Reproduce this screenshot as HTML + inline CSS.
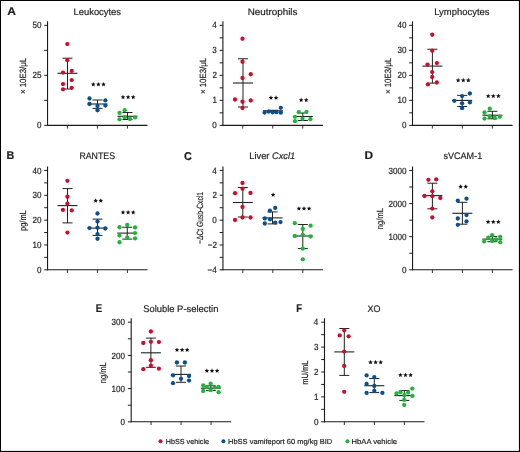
<!DOCTYPE html>
<html><head><meta charset="utf-8"><style>
html,body{margin:0;padding:0;background:#fff;}
svg{display:block;will-change:transform;}
text{text-rendering:geometricPrecision;font-family:"Liberation Sans",sans-serif;fill:#1e1e1e;stroke:#1e1e1e;stroke-width:0.18px;}
</style></head><body>
<svg width="520" height="452" viewBox="0 0 520 452">
<rect x="0" y="0" width="520" height="452" fill="#fff"/>
<text x="73.53" y="15.10" font-size="9.5" font-weight="normal" textLength="47.51" lengthAdjust="spacingAndGlyphs">Leukocytes</text><text x="247.69" y="15.20" font-size="9.5" font-weight="normal" textLength="49.76" lengthAdjust="spacingAndGlyphs">Neutrophils</text><text x="434.23" y="15.10" font-size="9.5" font-weight="normal" textLength="55.31" lengthAdjust="spacingAndGlyphs">Lymphocytes</text><text x="79.38" y="159.30" font-size="9.5" font-weight="normal" textLength="35.73" lengthAdjust="spacingAndGlyphs">RANTES</text><text x="249.34" y="159.40" font-size="9.5" font-weight="normal" textLength="45.84" lengthAdjust="spacingAndGlyphs">Liver <tspan font-style="italic">Cxcl1</tspan></text><text x="443.45" y="159.30" font-size="9.5" font-weight="normal" textLength="38.80" lengthAdjust="spacingAndGlyphs">sVCAM-1</text><text x="143.17" y="311.90" font-size="9.5" font-weight="normal" textLength="75.24" lengthAdjust="spacingAndGlyphs">Soluble P-selectin</text><text x="367.60" y="311.80" font-size="9.5" font-weight="normal" textLength="12.93" lengthAdjust="spacingAndGlyphs">XO</text><text x="7.20" y="14.60" font-size="11.3" font-weight="bold" textLength="8.72" lengthAdjust="spacingAndGlyphs"><tspan font-weight="bold">A</tspan></text><text x="6.48" y="159.40" font-size="11.3" font-weight="bold" textLength="7.82" lengthAdjust="spacingAndGlyphs"><tspan font-weight="bold">B</tspan></text><text x="184.05" y="159.50" font-size="11.3" font-weight="bold" textLength="7.84" lengthAdjust="spacingAndGlyphs"><tspan font-weight="bold">C</tspan></text><text x="364.50" y="159.40" font-size="11.3" font-weight="bold" textLength="8.60" lengthAdjust="spacingAndGlyphs"><tspan font-weight="bold">D</tspan></text><text x="95.66" y="311.50" font-size="11.3" font-weight="bold" textLength="6.42" lengthAdjust="spacingAndGlyphs"><tspan font-weight="bold">E</tspan></text><text x="296.37" y="311.80" font-size="11.3" font-weight="bold" textLength="5.78" lengthAdjust="spacingAndGlyphs"><tspan font-weight="bold">F</tspan></text><line x1="47.55" y1="21.35" x2="47.55" y2="125.85" stroke="#1a1a1a" stroke-width="1.1"/><line x1="44.25" y1="125.35" x2="47.55" y2="125.35" stroke="#1a1a1a" stroke-width="1"/><line x1="44.25" y1="100.35" x2="47.55" y2="100.35" stroke="#1a1a1a" stroke-width="1"/><line x1="44.25" y1="75.35" x2="47.55" y2="75.35" stroke="#1a1a1a" stroke-width="1"/><line x1="44.25" y1="50.349999999999994" x2="47.55" y2="50.349999999999994" stroke="#1a1a1a" stroke-width="1"/><line x1="44.25" y1="25.349999999999994" x2="47.55" y2="25.349999999999994" stroke="#1a1a1a" stroke-width="1"/><text x="36.96" y="128.45" font-size="9.0" font-weight="normal" textLength="4.50" lengthAdjust="spacingAndGlyphs">0</text><text x="32.48" y="78.45" font-size="9.0" font-weight="normal" textLength="9.01" lengthAdjust="spacingAndGlyphs">25</text><text x="32.46" y="28.45" font-size="9.0" font-weight="normal" textLength="9.01" lengthAdjust="spacingAndGlyphs">50</text><line x1="47.05" y1="125.35" x2="147.55" y2="125.35" stroke="#1a1a1a" stroke-width="1.1"/><line x1="67.4" y1="125.35" x2="67.4" y2="128.54999999999998" stroke="#1a1a1a" stroke-width="0.9"/><line x1="97.4" y1="125.35" x2="97.4" y2="128.54999999999998" stroke="#1a1a1a" stroke-width="0.9"/><line x1="127.39999999999999" y1="125.35" x2="127.39999999999999" y2="128.54999999999998" stroke="#1a1a1a" stroke-width="0.9"/><text transform="translate(26.40,93.50) rotate(-90)" x="-0.54" y="0" font-size="9.0" textLength="36.21" lengthAdjust="spacingAndGlyphs">× 10E3/μL</text><line x1="67.5" y1="58.2" x2="67.5" y2="89" stroke="#222" stroke-width="1"/><line x1="62.5" y1="58.2" x2="72.5" y2="58.2" stroke="#222" stroke-width="1"/><line x1="62.5" y1="89" x2="72.5" y2="89" stroke="#222" stroke-width="1"/><line x1="57.5" y1="73.3" x2="77.5" y2="73.3" stroke="#222" stroke-width="1.1"/><circle cx="67.3" cy="44.1" r="2.15" fill="#c8102e"/><circle cx="67.3" cy="60.2" r="2.15" fill="#c8102e"/><circle cx="63" cy="72.6" r="2.15" fill="#c8102e"/><circle cx="71.7" cy="70.9" r="2.15" fill="#c8102e"/><circle cx="71.7" cy="80.1" r="2.15" fill="#c8102e"/><circle cx="63" cy="84.1" r="2.15" fill="#c8102e"/><circle cx="71.7" cy="87.8" r="2.15" fill="#c8102e"/><circle cx="63" cy="89.3" r="2.15" fill="#c8102e"/><line x1="97.5" y1="100" x2="97.5" y2="108.4" stroke="#222" stroke-width="1"/><line x1="92.5" y1="100" x2="102.5" y2="100" stroke="#222" stroke-width="1"/><line x1="92.5" y1="108.4" x2="102.5" y2="108.4" stroke="#222" stroke-width="1"/><line x1="87.5" y1="104" x2="107.5" y2="104" stroke="#222" stroke-width="1.1"/><circle cx="89.5" cy="98.5" r="2.15" fill="#0b4f8f"/><circle cx="105.4" cy="100.4" r="2.15" fill="#0b4f8f"/><circle cx="89.5" cy="104" r="2.15" fill="#0b4f8f"/><circle cx="97.5" cy="106" r="2.15" fill="#0b4f8f"/><circle cx="105.4" cy="105.6" r="2.15" fill="#0b4f8f"/><circle cx="97.5" cy="110.25" r="2.15" fill="#0b4f8f"/><line x1="127.5" y1="112.5" x2="127.5" y2="119.5" stroke="#222" stroke-width="1"/><line x1="122.5" y1="112.5" x2="132.5" y2="112.5" stroke="#222" stroke-width="1"/><line x1="122.5" y1="119.5" x2="132.5" y2="119.5" stroke="#222" stroke-width="1"/><line x1="117.5" y1="116.3" x2="137.5" y2="116.3" stroke="#222" stroke-width="1.1"/><circle cx="124.7" cy="110.2" r="2.15" fill="#22b43a"/><circle cx="119.5" cy="112.9" r="2.15" fill="#22b43a"/><circle cx="135.1" cy="117.4" r="2.15" fill="#22b43a"/><circle cx="124.8" cy="117.2" r="2.15" fill="#22b43a"/><circle cx="119.5" cy="119.3" r="2.15" fill="#22b43a"/><circle cx="129.9" cy="119" r="2.15" fill="#22b43a"/><g fill="#111"><polygon points="93.30,81.95 93.95,83.51 95.63,83.64 94.35,84.74 94.74,86.38 93.30,85.50 91.86,86.38 92.25,84.74 90.97,83.64 92.65,83.51"/><polygon points="98.40,81.95 99.05,83.51 100.73,83.64 99.45,84.74 99.84,86.38 98.40,85.50 96.96,86.38 97.35,84.74 96.07,83.64 97.75,83.51"/><polygon points="103.50,81.95 104.15,83.51 105.83,83.64 104.55,84.74 104.94,86.38 103.50,85.50 102.06,86.38 102.45,84.74 101.17,83.64 102.85,83.51"/><polygon points="123.00,94.75 123.65,96.31 125.33,96.44 124.05,97.54 124.44,99.18 123.00,98.30 121.56,99.18 121.95,97.54 120.67,96.44 122.35,96.31"/><polygon points="128.10,94.75 128.75,96.31 130.43,96.44 129.15,97.54 129.54,99.18 128.10,98.30 126.66,99.18 127.05,97.54 125.77,96.44 127.45,96.31"/><polygon points="133.20,94.75 133.85,96.31 135.53,96.44 134.25,97.54 134.64,99.18 133.20,98.30 131.76,99.18 132.15,97.54 130.87,96.44 132.55,96.31"/></g><line x1="222.9" y1="21.35" x2="222.9" y2="125.85" stroke="#1a1a1a" stroke-width="1.1"/><line x1="219.6" y1="125.35" x2="222.9" y2="125.35" stroke="#1a1a1a" stroke-width="1"/><line x1="219.6" y1="112.85" x2="222.9" y2="112.85" stroke="#1a1a1a" stroke-width="1"/><line x1="219.6" y1="100.35" x2="222.9" y2="100.35" stroke="#1a1a1a" stroke-width="1"/><line x1="219.6" y1="87.85" x2="222.9" y2="87.85" stroke="#1a1a1a" stroke-width="1"/><line x1="219.6" y1="75.35" x2="222.9" y2="75.35" stroke="#1a1a1a" stroke-width="1"/><line x1="219.6" y1="62.849999999999994" x2="222.9" y2="62.849999999999994" stroke="#1a1a1a" stroke-width="1"/><line x1="219.6" y1="50.349999999999994" x2="222.9" y2="50.349999999999994" stroke="#1a1a1a" stroke-width="1"/><line x1="219.6" y1="37.849999999999994" x2="222.9" y2="37.849999999999994" stroke="#1a1a1a" stroke-width="1"/><line x1="219.6" y1="25.349999999999994" x2="222.9" y2="25.349999999999994" stroke="#1a1a1a" stroke-width="1"/><text x="212.31" y="128.45" font-size="9.0" font-weight="normal" textLength="4.50" lengthAdjust="spacingAndGlyphs">0</text><text x="212.39" y="103.45" font-size="9.0" font-weight="normal" textLength="4.50" lengthAdjust="spacingAndGlyphs">1</text><text x="212.40" y="78.45" font-size="9.0" font-weight="normal" textLength="4.50" lengthAdjust="spacingAndGlyphs">2</text><text x="212.35" y="53.45" font-size="9.0" font-weight="normal" textLength="4.50" lengthAdjust="spacingAndGlyphs">3</text><text x="212.23" y="28.45" font-size="9.0" font-weight="normal" textLength="4.50" lengthAdjust="spacingAndGlyphs">4</text><line x1="222.4" y1="125.35" x2="322.9" y2="125.35" stroke="#1a1a1a" stroke-width="1.1"/><line x1="242.75" y1="125.35" x2="242.75" y2="128.54999999999998" stroke="#1a1a1a" stroke-width="0.9"/><line x1="272.75" y1="125.35" x2="272.75" y2="128.54999999999998" stroke="#1a1a1a" stroke-width="0.9"/><line x1="302.75" y1="125.35" x2="302.75" y2="128.54999999999998" stroke="#1a1a1a" stroke-width="0.9"/><text transform="translate(206.30,93.50) rotate(-90)" x="-0.54" y="0" font-size="9.0" textLength="36.21" lengthAdjust="spacingAndGlyphs">× 10E3/μL</text><line x1="243.0" y1="58.75" x2="243.0" y2="107" stroke="#222" stroke-width="1"/><line x1="238.0" y1="58.75" x2="248.0" y2="58.75" stroke="#222" stroke-width="1"/><line x1="238.0" y1="107" x2="248.0" y2="107" stroke="#222" stroke-width="1"/><line x1="233.0" y1="83" x2="253.0" y2="83" stroke="#222" stroke-width="1.1"/><circle cx="242.5" cy="38.75" r="2.15" fill="#c8102e"/><circle cx="242.5" cy="61.75" r="2.15" fill="#c8102e"/><circle cx="250.75" cy="74.25" r="2.15" fill="#c8102e"/><circle cx="242.5" cy="78" r="2.15" fill="#c8102e"/><circle cx="235" cy="99.5" r="2.15" fill="#c8102e"/><circle cx="242.5" cy="101.75" r="2.15" fill="#c8102e"/><circle cx="250.75" cy="100.5" r="2.15" fill="#c8102e"/><circle cx="242.5" cy="108" r="2.15" fill="#c8102e"/><line x1="273.0" y1="110.3" x2="273.0" y2="111.3" stroke="#222" stroke-width="1"/><line x1="268.0" y1="110.3" x2="278.0" y2="110.3" stroke="#222" stroke-width="1"/><line x1="268.0" y1="111.3" x2="278.0" y2="111.3" stroke="#222" stroke-width="1"/><line x1="263.0" y1="110.8" x2="283.0" y2="110.8" stroke="#222" stroke-width="1.1"/><circle cx="264.6" cy="112.5" r="2.15" fill="#0b4f8f"/><circle cx="268.7" cy="111.6" r="2.15" fill="#0b4f8f"/><circle cx="272.7" cy="112.3" r="2.15" fill="#0b4f8f"/><circle cx="276.5" cy="112.2" r="2.15" fill="#0b4f8f"/><circle cx="280.8" cy="112.7" r="2.15" fill="#0b4f8f"/><circle cx="280.8" cy="107.8" r="2.15" fill="#0b4f8f"/><line x1="302.8" y1="113" x2="302.8" y2="120.5" stroke="#222" stroke-width="1"/><line x1="297.8" y1="113" x2="307.8" y2="113" stroke="#222" stroke-width="1"/><line x1="297.8" y1="120.5" x2="307.8" y2="120.5" stroke="#222" stroke-width="1"/><line x1="292.8" y1="116.5" x2="312.8" y2="116.5" stroke="#222" stroke-width="1.1"/><circle cx="298.8" cy="112.2" r="2.15" fill="#22b43a"/><circle cx="306.5" cy="111.8" r="2.15" fill="#22b43a"/><circle cx="295" cy="116.8" r="2.15" fill="#22b43a"/><circle cx="302.5" cy="118.75" r="2.15" fill="#22b43a"/><circle cx="310.4" cy="119.2" r="2.15" fill="#22b43a"/><circle cx="295" cy="121.2" r="2.15" fill="#22b43a"/><g fill="#111"><polygon points="270.95,95.35 271.60,96.91 273.28,97.04 272.00,98.14 272.39,99.78 270.95,98.90 269.51,99.78 269.90,98.14 268.62,97.04 270.30,96.91"/><polygon points="276.05,95.35 276.70,96.91 278.38,97.04 277.10,98.14 277.49,99.78 276.05,98.90 274.61,99.78 275.00,98.14 273.72,97.04 275.40,96.91"/><polygon points="301.15,97.60 301.80,99.16 303.48,99.29 302.20,100.39 302.59,102.03 301.15,101.15 299.71,102.03 300.10,100.39 298.82,99.29 300.50,99.16"/><polygon points="306.25,97.60 306.90,99.16 308.58,99.29 307.30,100.39 307.69,102.03 306.25,101.15 304.81,102.03 305.20,100.39 303.92,99.29 305.60,99.16"/></g><line x1="412.5" y1="21.35" x2="412.5" y2="125.85" stroke="#1a1a1a" stroke-width="1.1"/><line x1="409.2" y1="125.35" x2="412.5" y2="125.35" stroke="#1a1a1a" stroke-width="1"/><line x1="409.2" y1="112.85" x2="412.5" y2="112.85" stroke="#1a1a1a" stroke-width="1"/><line x1="409.2" y1="100.35" x2="412.5" y2="100.35" stroke="#1a1a1a" stroke-width="1"/><line x1="409.2" y1="87.85" x2="412.5" y2="87.85" stroke="#1a1a1a" stroke-width="1"/><line x1="409.2" y1="75.35" x2="412.5" y2="75.35" stroke="#1a1a1a" stroke-width="1"/><line x1="409.2" y1="62.849999999999994" x2="412.5" y2="62.849999999999994" stroke="#1a1a1a" stroke-width="1"/><line x1="409.2" y1="50.349999999999994" x2="412.5" y2="50.349999999999994" stroke="#1a1a1a" stroke-width="1"/><line x1="409.2" y1="37.849999999999994" x2="412.5" y2="37.849999999999994" stroke="#1a1a1a" stroke-width="1"/><line x1="409.2" y1="25.349999999999994" x2="412.5" y2="25.349999999999994" stroke="#1a1a1a" stroke-width="1"/><text x="401.91" y="128.45" font-size="9.0" font-weight="normal" textLength="4.50" lengthAdjust="spacingAndGlyphs">0</text><text x="397.41" y="103.45" font-size="9.0" font-weight="normal" textLength="9.01" lengthAdjust="spacingAndGlyphs">10</text><text x="397.41" y="78.45" font-size="9.0" font-weight="normal" textLength="9.01" lengthAdjust="spacingAndGlyphs">20</text><text x="397.41" y="53.45" font-size="9.0" font-weight="normal" textLength="9.01" lengthAdjust="spacingAndGlyphs">30</text><text x="397.41" y="28.45" font-size="9.0" font-weight="normal" textLength="9.01" lengthAdjust="spacingAndGlyphs">40</text><line x1="412.0" y1="125.35" x2="512.5" y2="125.35" stroke="#1a1a1a" stroke-width="1.1"/><line x1="432.35" y1="125.35" x2="432.35" y2="128.54999999999998" stroke="#1a1a1a" stroke-width="0.9"/><line x1="462.35" y1="125.35" x2="462.35" y2="128.54999999999998" stroke="#1a1a1a" stroke-width="0.9"/><line x1="492.35" y1="125.35" x2="492.35" y2="128.54999999999998" stroke="#1a1a1a" stroke-width="0.9"/><text transform="translate(391.40,93.50) rotate(-90)" x="-0.54" y="0" font-size="9.0" textLength="36.21" lengthAdjust="spacingAndGlyphs">× 10E3/μL</text><line x1="432.4" y1="49.25" x2="432.4" y2="83.1" stroke="#222" stroke-width="1"/><line x1="427.4" y1="49.25" x2="437.4" y2="49.25" stroke="#222" stroke-width="1"/><line x1="427.4" y1="83.1" x2="437.4" y2="83.1" stroke="#222" stroke-width="1"/><line x1="422.4" y1="66.1" x2="442.4" y2="66.1" stroke="#222" stroke-width="1.1"/><circle cx="432.25" cy="34.75" r="2.15" fill="#c8102e"/><circle cx="432.25" cy="50.75" r="2.15" fill="#c8102e"/><circle cx="427.5" cy="64.6" r="2.15" fill="#c8102e"/><circle cx="436.9" cy="63.1" r="2.15" fill="#c8102e"/><circle cx="432.2" cy="72.1" r="2.15" fill="#c8102e"/><circle cx="432.2" cy="77" r="2.15" fill="#c8102e"/><circle cx="427.9" cy="84.4" r="2.15" fill="#c8102e"/><circle cx="436.8" cy="82.5" r="2.15" fill="#c8102e"/><line x1="462.2" y1="95.4" x2="462.2" y2="106.5" stroke="#222" stroke-width="1"/><line x1="457.2" y1="95.4" x2="467.2" y2="95.4" stroke="#222" stroke-width="1"/><line x1="457.2" y1="106.5" x2="467.2" y2="106.5" stroke="#222" stroke-width="1"/><line x1="452.2" y1="100.4" x2="472.2" y2="100.4" stroke="#222" stroke-width="1.1"/><circle cx="469.9" cy="93.5" r="2.15" fill="#0b4f8f"/><circle cx="462.1" cy="96.1" r="2.15" fill="#0b4f8f"/><circle cx="454.3" cy="100.8" r="2.15" fill="#0b4f8f"/><circle cx="462.1" cy="103.3" r="2.15" fill="#0b4f8f"/><circle cx="469.9" cy="102.4" r="2.15" fill="#0b4f8f"/><circle cx="462.1" cy="108.2" r="2.15" fill="#0b4f8f"/><line x1="492.4" y1="111.3" x2="492.4" y2="118.8" stroke="#222" stroke-width="1"/><line x1="487.4" y1="111.3" x2="497.4" y2="111.3" stroke="#222" stroke-width="1"/><line x1="487.4" y1="118.8" x2="497.4" y2="118.8" stroke="#222" stroke-width="1"/><line x1="482.4" y1="115.2" x2="502.4" y2="115.2" stroke="#222" stroke-width="1.1"/><circle cx="489.8" cy="108.7" r="2.15" fill="#22b43a"/><circle cx="484.5" cy="112.5" r="2.15" fill="#22b43a"/><circle cx="489.8" cy="116.5" r="2.15" fill="#22b43a"/><circle cx="484.5" cy="118.6" r="2.15" fill="#22b43a"/><circle cx="494.8" cy="118" r="2.15" fill="#22b43a"/><circle cx="499.8" cy="116.8" r="2.15" fill="#22b43a"/><g fill="#111"><polygon points="458.15,77.85 458.80,79.41 460.48,79.54 459.20,80.64 459.59,82.28 458.15,81.40 456.71,82.28 457.10,80.64 455.82,79.54 457.50,79.41"/><polygon points="463.25,77.85 463.90,79.41 465.58,79.54 464.30,80.64 464.69,82.28 463.25,81.40 461.81,82.28 462.20,80.64 460.92,79.54 462.60,79.41"/><polygon points="468.35,77.85 469.00,79.41 470.68,79.54 469.40,80.64 469.79,82.28 468.35,81.40 466.91,82.28 467.30,80.64 466.02,79.54 467.70,79.41"/><polygon points="488.20,93.65 488.85,95.21 490.53,95.34 489.25,96.44 489.64,98.08 488.20,97.20 486.76,98.08 487.15,96.44 485.87,95.34 487.55,95.21"/><polygon points="493.30,93.65 493.95,95.21 495.63,95.34 494.35,96.44 494.74,98.08 493.30,97.20 491.86,98.08 492.25,96.44 490.97,95.34 492.65,95.21"/><polygon points="498.40,93.65 499.05,95.21 500.73,95.34 499.45,96.44 499.84,98.08 498.40,97.20 496.96,98.08 497.35,96.44 496.07,95.34 497.75,95.21"/></g><line x1="47.55" y1="166.45" x2="47.55" y2="270.3" stroke="#1a1a1a" stroke-width="1.1"/><line x1="44.25" y1="269.8" x2="47.55" y2="269.8" stroke="#1a1a1a" stroke-width="1"/><line x1="44.25" y1="257.38125" x2="47.55" y2="257.38125" stroke="#1a1a1a" stroke-width="1"/><line x1="44.25" y1="244.9625" x2="47.55" y2="244.9625" stroke="#1a1a1a" stroke-width="1"/><line x1="44.25" y1="232.54375" x2="47.55" y2="232.54375" stroke="#1a1a1a" stroke-width="1"/><line x1="44.25" y1="220.125" x2="47.55" y2="220.125" stroke="#1a1a1a" stroke-width="1"/><line x1="44.25" y1="207.70625" x2="47.55" y2="207.70625" stroke="#1a1a1a" stroke-width="1"/><line x1="44.25" y1="195.2875" x2="47.55" y2="195.2875" stroke="#1a1a1a" stroke-width="1"/><line x1="44.25" y1="182.86874999999998" x2="47.55" y2="182.86874999999998" stroke="#1a1a1a" stroke-width="1"/><line x1="44.25" y1="170.45" x2="47.55" y2="170.45" stroke="#1a1a1a" stroke-width="1"/><text x="36.96" y="272.90" font-size="9.0" font-weight="normal" textLength="4.50" lengthAdjust="spacingAndGlyphs">0</text><text x="32.46" y="248.06" font-size="9.0" font-weight="normal" textLength="9.01" lengthAdjust="spacingAndGlyphs">10</text><text x="32.46" y="223.22" font-size="9.0" font-weight="normal" textLength="9.01" lengthAdjust="spacingAndGlyphs">20</text><text x="32.46" y="198.39" font-size="9.0" font-weight="normal" textLength="9.01" lengthAdjust="spacingAndGlyphs">30</text><text x="32.46" y="173.55" font-size="9.0" font-weight="normal" textLength="9.01" lengthAdjust="spacingAndGlyphs">40</text><line x1="47.05" y1="269.8" x2="147.55" y2="269.8" stroke="#1a1a1a" stroke-width="1.1"/><line x1="67.4" y1="269.8" x2="67.4" y2="273.0" stroke="#1a1a1a" stroke-width="0.9"/><line x1="97.4" y1="269.8" x2="97.4" y2="273.0" stroke="#1a1a1a" stroke-width="0.9"/><line x1="127.39999999999999" y1="269.8" x2="127.39999999999999" y2="273.0" stroke="#1a1a1a" stroke-width="0.9"/><text transform="translate(26.30,230.50) rotate(-90)" x="-0.48" y="0" font-size="9.0" textLength="20.73" lengthAdjust="spacingAndGlyphs">pg/mL</text><line x1="67.5" y1="188.6" x2="67.5" y2="222.9" stroke="#222" stroke-width="1"/><line x1="62.5" y1="188.6" x2="72.5" y2="188.6" stroke="#222" stroke-width="1"/><line x1="62.5" y1="222.9" x2="72.5" y2="222.9" stroke="#222" stroke-width="1"/><line x1="57.5" y1="205.6" x2="77.5" y2="205.6" stroke="#222" stroke-width="1.1"/><circle cx="67.4" cy="180.8" r="2.15" fill="#c8102e"/><circle cx="67.4" cy="196.75" r="2.15" fill="#c8102e"/><circle cx="67.4" cy="203.6" r="2.15" fill="#c8102e"/><circle cx="62.9" cy="209.9" r="2.15" fill="#c8102e"/><circle cx="71.75" cy="210.4" r="2.15" fill="#c8102e"/><circle cx="67.4" cy="232.6" r="2.15" fill="#c8102e"/><line x1="97.5" y1="219.1" x2="97.5" y2="235.4" stroke="#222" stroke-width="1"/><line x1="92.5" y1="219.1" x2="102.5" y2="219.1" stroke="#222" stroke-width="1"/><line x1="92.5" y1="235.4" x2="102.5" y2="235.4" stroke="#222" stroke-width="1"/><line x1="87.5" y1="228.1" x2="107.5" y2="228.1" stroke="#222" stroke-width="1.1"/><circle cx="97.5" cy="213.5" r="2.15" fill="#0b4f8f"/><circle cx="97.5" cy="221.5" r="2.15" fill="#0b4f8f"/><circle cx="89.5" cy="228.1" r="2.15" fill="#0b4f8f"/><circle cx="97.5" cy="227.75" r="2.15" fill="#0b4f8f"/><circle cx="105.25" cy="228.5" r="2.15" fill="#0b4f8f"/><circle cx="97.5" cy="234.1" r="2.15" fill="#0b4f8f"/><circle cx="97.5" cy="238.75" r="2.15" fill="#0b4f8f"/><line x1="127.25" y1="227.25" x2="127.25" y2="239.1" stroke="#222" stroke-width="1"/><line x1="122.25" y1="227.25" x2="132.25" y2="227.25" stroke="#222" stroke-width="1"/><line x1="122.25" y1="239.1" x2="132.25" y2="239.1" stroke="#222" stroke-width="1"/><line x1="117.25" y1="233.1" x2="137.25" y2="233.1" stroke="#222" stroke-width="1.1"/><circle cx="127.25" cy="225" r="2.15" fill="#22b43a"/><circle cx="119.5" cy="227.25" r="2.15" fill="#22b43a"/><circle cx="135" cy="227.5" r="2.15" fill="#22b43a"/><circle cx="119.5" cy="235.6" r="2.15" fill="#22b43a"/><circle cx="135" cy="233.1" r="2.15" fill="#22b43a"/><circle cx="127.25" cy="237.5" r="2.15" fill="#22b43a"/><circle cx="135" cy="238.4" r="2.15" fill="#22b43a"/><circle cx="119.5" cy="242.25" r="2.15" fill="#22b43a"/><g fill="#111"><polygon points="95.65,198.25 96.30,199.81 97.98,199.94 96.70,201.04 97.09,202.68 95.65,201.80 94.21,202.68 94.60,201.04 93.32,199.94 95.00,199.81"/><polygon points="100.75,198.25 101.40,199.81 103.08,199.94 101.80,201.04 102.19,202.68 100.75,201.80 99.31,202.68 99.70,201.04 98.42,199.94 100.10,199.81"/><polygon points="123.00,209.95 123.65,211.51 125.33,211.64 124.05,212.74 124.44,214.38 123.00,213.50 121.56,214.38 121.95,212.74 120.67,211.64 122.35,211.51"/><polygon points="128.10,209.95 128.75,211.51 130.43,211.64 129.15,212.74 129.54,214.38 128.10,213.50 126.66,214.38 127.05,212.74 125.77,211.64 127.45,211.51"/><polygon points="133.20,209.95 133.85,211.51 135.53,211.64 134.25,212.74 134.64,214.38 133.20,213.50 131.76,214.38 132.15,212.74 130.87,211.64 132.55,211.51"/></g><line x1="222.95" y1="166.45" x2="222.95" y2="270.3" stroke="#1a1a1a" stroke-width="1.1"/><line x1="219.64999999999998" y1="269.8" x2="222.95" y2="269.8" stroke="#1a1a1a" stroke-width="1"/><line x1="219.64999999999998" y1="257.38125" x2="222.95" y2="257.38125" stroke="#1a1a1a" stroke-width="1"/><line x1="219.64999999999998" y1="244.9625" x2="222.95" y2="244.9625" stroke="#1a1a1a" stroke-width="1"/><line x1="219.64999999999998" y1="232.54375" x2="222.95" y2="232.54375" stroke="#1a1a1a" stroke-width="1"/><line x1="219.64999999999998" y1="220.125" x2="222.95" y2="220.125" stroke="#1a1a1a" stroke-width="1"/><line x1="219.64999999999998" y1="207.70625" x2="222.95" y2="207.70625" stroke="#1a1a1a" stroke-width="1"/><line x1="219.64999999999998" y1="195.2875" x2="222.95" y2="195.2875" stroke="#1a1a1a" stroke-width="1"/><line x1="219.64999999999998" y1="182.86874999999998" x2="222.95" y2="182.86874999999998" stroke="#1a1a1a" stroke-width="1"/><line x1="219.64999999999998" y1="170.45" x2="222.95" y2="170.45" stroke="#1a1a1a" stroke-width="1"/><text x="207.55" y="272.90" font-size="9.0" font-weight="normal" textLength="9.24" lengthAdjust="spacingAndGlyphs">−4</text><text x="207.72" y="248.06" font-size="9.0" font-weight="normal" textLength="9.24" lengthAdjust="spacingAndGlyphs">−2</text><text x="212.36" y="223.22" font-size="9.0" font-weight="normal" textLength="4.50" lengthAdjust="spacingAndGlyphs">0</text><text x="212.45" y="198.39" font-size="9.0" font-weight="normal" textLength="4.50" lengthAdjust="spacingAndGlyphs">2</text><text x="212.28" y="173.55" font-size="9.0" font-weight="normal" textLength="4.50" lengthAdjust="spacingAndGlyphs">4</text><line x1="222.45" y1="269.8" x2="322.95" y2="269.8" stroke="#1a1a1a" stroke-width="1.1"/><line x1="242.79999999999998" y1="269.8" x2="242.79999999999998" y2="273.0" stroke="#1a1a1a" stroke-width="0.9"/><line x1="272.8" y1="269.8" x2="272.8" y2="273.0" stroke="#1a1a1a" stroke-width="0.9"/><line x1="302.79999999999995" y1="269.8" x2="302.79999999999995" y2="273.0" stroke="#1a1a1a" stroke-width="0.9"/><text transform="translate(202.60,243.60) rotate(-90)" x="-0.33" y="0" font-size="9.0" textLength="51.96" lengthAdjust="spacingAndGlyphs">−ΔCt Gusb-Cxcl1</text><line x1="242.8" y1="187.5" x2="242.8" y2="217" stroke="#222" stroke-width="1"/><line x1="237.8" y1="187.5" x2="247.8" y2="187.5" stroke="#222" stroke-width="1"/><line x1="237.8" y1="217" x2="247.8" y2="217" stroke="#222" stroke-width="1"/><line x1="232.8" y1="202.5" x2="252.8" y2="202.5" stroke="#222" stroke-width="1.1"/><circle cx="242.5" cy="183" r="2.15" fill="#c8102e"/><circle cx="242.5" cy="188.75" r="2.15" fill="#c8102e"/><circle cx="235" cy="193.25" r="2.15" fill="#c8102e"/><circle cx="250.5" cy="193" r="2.15" fill="#c8102e"/><circle cx="242.5" cy="207" r="2.15" fill="#c8102e"/><circle cx="235" cy="220" r="2.15" fill="#c8102e"/><circle cx="242.5" cy="217.5" r="2.15" fill="#c8102e"/><circle cx="250.5" cy="217.5" r="2.15" fill="#c8102e"/><line x1="272.5" y1="211.9" x2="272.5" y2="223.9" stroke="#222" stroke-width="1"/><line x1="267.5" y1="211.9" x2="277.5" y2="211.9" stroke="#222" stroke-width="1"/><line x1="267.5" y1="223.9" x2="277.5" y2="223.9" stroke="#222" stroke-width="1"/><line x1="262.5" y1="217.9" x2="282.5" y2="217.9" stroke="#222" stroke-width="1.1"/><circle cx="275.2" cy="207.9" r="2.15" fill="#0b4f8f"/><circle cx="269.9" cy="210.75" r="2.15" fill="#0b4f8f"/><circle cx="264.8" cy="218.4" r="2.15" fill="#0b4f8f"/><circle cx="270" cy="219.3" r="2.15" fill="#0b4f8f"/><circle cx="264.8" cy="223.5" r="2.15" fill="#0b4f8f"/><circle cx="275.2" cy="222.6" r="2.15" fill="#0b4f8f"/><circle cx="280.5" cy="222.1" r="2.15" fill="#0b4f8f"/><line x1="302.8" y1="224.5" x2="302.8" y2="248.6" stroke="#222" stroke-width="1"/><line x1="297.8" y1="224.5" x2="307.8" y2="224.5" stroke="#222" stroke-width="1"/><line x1="297.8" y1="248.6" x2="307.8" y2="248.6" stroke="#222" stroke-width="1"/><line x1="292.8" y1="236" x2="312.8" y2="236" stroke="#222" stroke-width="1.1"/><circle cx="294.8" cy="223.2" r="2.15" fill="#22b43a"/><circle cx="310.6" cy="225.7" r="2.15" fill="#22b43a"/><circle cx="302.8" cy="229" r="2.15" fill="#22b43a"/><circle cx="294.8" cy="236" r="2.15" fill="#22b43a"/><circle cx="302.8" cy="234.8" r="2.15" fill="#22b43a"/><circle cx="310.6" cy="236.5" r="2.15" fill="#22b43a"/><circle cx="302.8" cy="248.6" r="2.15" fill="#22b43a"/><circle cx="302.8" cy="259.3" r="2.15" fill="#22b43a"/><g fill="#111"><polygon points="273.10,192.35 273.75,193.91 275.43,194.04 274.15,195.14 274.54,196.78 273.10,195.90 271.66,196.78 272.05,195.14 270.77,194.04 272.45,193.91"/><polygon points="298.90,206.15 299.55,207.71 301.23,207.84 299.95,208.94 300.34,210.58 298.90,209.70 297.46,210.58 297.85,208.94 296.57,207.84 298.25,207.71"/><polygon points="304.00,206.15 304.65,207.71 306.33,207.84 305.05,208.94 305.44,210.58 304.00,209.70 302.56,210.58 302.95,208.94 301.67,207.84 303.35,207.71"/><polygon points="309.10,206.15 309.75,207.71 311.43,207.84 310.15,208.94 310.54,210.58 309.10,209.70 307.66,210.58 308.05,208.94 306.77,207.84 308.45,207.71"/></g><line x1="412.55" y1="166.45" x2="412.55" y2="270.3" stroke="#1a1a1a" stroke-width="1.1"/><line x1="409.25" y1="269.8" x2="412.55" y2="269.8" stroke="#1a1a1a" stroke-width="1"/><line x1="409.25" y1="253.24166666666667" x2="412.55" y2="253.24166666666667" stroke="#1a1a1a" stroke-width="1"/><line x1="409.25" y1="236.68333333333334" x2="412.55" y2="236.68333333333334" stroke="#1a1a1a" stroke-width="1"/><line x1="409.25" y1="220.125" x2="412.55" y2="220.125" stroke="#1a1a1a" stroke-width="1"/><line x1="409.25" y1="203.56666666666666" x2="412.55" y2="203.56666666666666" stroke="#1a1a1a" stroke-width="1"/><line x1="409.25" y1="187.00833333333333" x2="412.55" y2="187.00833333333333" stroke="#1a1a1a" stroke-width="1"/><line x1="409.25" y1="170.45" x2="412.55" y2="170.45" stroke="#1a1a1a" stroke-width="1"/><text x="401.96" y="272.90" font-size="9.0" font-weight="normal" textLength="4.50" lengthAdjust="spacingAndGlyphs">0</text><text x="388.45" y="239.78" font-size="9.0" font-weight="normal" textLength="18.02" lengthAdjust="spacingAndGlyphs">1000</text><text x="388.45" y="206.67" font-size="9.0" font-weight="normal" textLength="18.02" lengthAdjust="spacingAndGlyphs">2000</text><text x="388.45" y="173.55" font-size="9.0" font-weight="normal" textLength="18.02" lengthAdjust="spacingAndGlyphs">3000</text><line x1="412.05" y1="269.8" x2="512.55" y2="269.8" stroke="#1a1a1a" stroke-width="1.1"/><line x1="432.40000000000003" y1="269.8" x2="432.40000000000003" y2="273.0" stroke="#1a1a1a" stroke-width="0.9"/><line x1="462.40000000000003" y1="269.8" x2="462.40000000000003" y2="273.0" stroke="#1a1a1a" stroke-width="0.9"/><line x1="492.4" y1="269.8" x2="492.4" y2="273.0" stroke="#1a1a1a" stroke-width="0.9"/><text transform="translate(382.90,228.80) rotate(-90)" x="-0.51" y="0" font-size="9.0" textLength="21.26" lengthAdjust="spacingAndGlyphs">ng/mL</text><line x1="432.4" y1="183.2" x2="432.4" y2="208.8" stroke="#222" stroke-width="1"/><line x1="427.4" y1="183.2" x2="437.4" y2="183.2" stroke="#222" stroke-width="1"/><line x1="427.4" y1="208.8" x2="437.4" y2="208.8" stroke="#222" stroke-width="1"/><line x1="422.4" y1="195.6" x2="442.4" y2="195.6" stroke="#222" stroke-width="1.1"/><circle cx="428.4" cy="179.8" r="2.15" fill="#c8102e"/><circle cx="436.2" cy="179.4" r="2.15" fill="#c8102e"/><circle cx="432.3" cy="191.3" r="2.15" fill="#c8102e"/><circle cx="424.5" cy="196" r="2.15" fill="#c8102e"/><circle cx="432.3" cy="196.2" r="2.15" fill="#c8102e"/><circle cx="440.3" cy="198" r="2.15" fill="#c8102e"/><circle cx="432.3" cy="208.6" r="2.15" fill="#c8102e"/><circle cx="432.3" cy="217.4" r="2.15" fill="#c8102e"/><line x1="462.4" y1="202.3" x2="462.4" y2="224.2" stroke="#222" stroke-width="1"/><line x1="457.4" y1="202.3" x2="467.4" y2="202.3" stroke="#222" stroke-width="1"/><line x1="457.4" y1="224.2" x2="467.4" y2="224.2" stroke="#222" stroke-width="1"/><line x1="452.4" y1="213.3" x2="472.4" y2="213.3" stroke="#222" stroke-width="1.1"/><circle cx="457.8" cy="200.7" r="2.15" fill="#0b4f8f"/><circle cx="466.5" cy="198.7" r="2.15" fill="#0b4f8f"/><circle cx="466.5" cy="215.1" r="2.15" fill="#0b4f8f"/><circle cx="457.8" cy="218.5" r="2.15" fill="#0b4f8f"/><circle cx="466.5" cy="221.4" r="2.15" fill="#0b4f8f"/><circle cx="457.8" cy="224.8" r="2.15" fill="#0b4f8f"/><line x1="492.4" y1="236.6" x2="492.4" y2="241.7" stroke="#222" stroke-width="1"/><line x1="487.4" y1="236.6" x2="497.4" y2="236.6" stroke="#222" stroke-width="1"/><line x1="487.4" y1="241.7" x2="497.4" y2="241.7" stroke="#222" stroke-width="1"/><line x1="482.4" y1="239.1" x2="502.4" y2="239.1" stroke="#222" stroke-width="1.1"/><circle cx="492.1" cy="235.2" r="2.15" fill="#22b43a"/><circle cx="488.3" cy="237.6" r="2.15" fill="#22b43a"/><circle cx="500.2" cy="236.8" r="2.15" fill="#22b43a"/><circle cx="496" cy="239.4" r="2.15" fill="#22b43a"/><circle cx="484.2" cy="241.4" r="2.15" fill="#22b43a"/><circle cx="492.1" cy="241" r="2.15" fill="#22b43a"/><circle cx="500.2" cy="242.2" r="2.15" fill="#22b43a"/><g fill="#111"><polygon points="460.65,184.25 461.30,185.81 462.98,185.94 461.70,187.04 462.09,188.68 460.65,187.80 459.21,188.68 459.60,187.04 458.32,185.94 460.00,185.81"/><polygon points="465.75,184.25 466.40,185.81 468.08,185.94 466.80,187.04 467.19,188.68 465.75,187.80 464.31,188.68 464.70,187.04 463.42,185.94 465.10,185.81"/><polygon points="488.15,219.45 488.80,221.01 490.48,221.14 489.20,222.24 489.59,223.88 488.15,223.00 486.71,223.88 487.10,222.24 485.82,221.14 487.50,221.01"/><polygon points="493.25,219.45 493.90,221.01 495.58,221.14 494.30,222.24 494.69,223.88 493.25,223.00 491.81,223.88 492.20,222.24 490.92,221.14 492.60,221.01"/><polygon points="498.35,219.45 499.00,221.01 500.68,221.14 499.40,222.24 499.79,223.88 498.35,223.00 496.91,223.88 497.30,222.24 496.02,221.14 497.70,221.01"/></g><line x1="131.2" y1="318.2" x2="131.2" y2="422.3" stroke="#1a1a1a" stroke-width="1.1"/><line x1="127.89999999999999" y1="421.8" x2="131.2" y2="421.8" stroke="#1a1a1a" stroke-width="1"/><line x1="127.89999999999999" y1="405.2" x2="131.2" y2="405.2" stroke="#1a1a1a" stroke-width="1"/><line x1="127.89999999999999" y1="388.6" x2="131.2" y2="388.6" stroke="#1a1a1a" stroke-width="1"/><line x1="127.89999999999999" y1="372.0" x2="131.2" y2="372.0" stroke="#1a1a1a" stroke-width="1"/><line x1="127.89999999999999" y1="355.4" x2="131.2" y2="355.4" stroke="#1a1a1a" stroke-width="1"/><line x1="127.89999999999999" y1="338.79999999999995" x2="131.2" y2="338.79999999999995" stroke="#1a1a1a" stroke-width="1"/><line x1="127.89999999999999" y1="322.2" x2="131.2" y2="322.2" stroke="#1a1a1a" stroke-width="1"/><text x="120.61" y="424.90" font-size="9.0" font-weight="normal" textLength="4.50" lengthAdjust="spacingAndGlyphs">0</text><text x="111.60" y="391.70" font-size="9.0" font-weight="normal" textLength="13.51" lengthAdjust="spacingAndGlyphs">100</text><text x="111.60" y="358.50" font-size="9.0" font-weight="normal" textLength="13.51" lengthAdjust="spacingAndGlyphs">200</text><text x="111.60" y="325.30" font-size="9.0" font-weight="normal" textLength="13.51" lengthAdjust="spacingAndGlyphs">300</text><line x1="130.7" y1="421.8" x2="231.2" y2="421.8" stroke="#1a1a1a" stroke-width="1.1"/><line x1="151.04999999999998" y1="421.8" x2="151.04999999999998" y2="425.0" stroke="#1a1a1a" stroke-width="0.9"/><line x1="181.04999999999998" y1="421.8" x2="181.04999999999998" y2="425.0" stroke="#1a1a1a" stroke-width="0.9"/><line x1="211.04999999999998" y1="421.8" x2="211.04999999999998" y2="425.0" stroke="#1a1a1a" stroke-width="0.9"/><text transform="translate(106.30,382.80) rotate(-90)" x="-0.51" y="0" font-size="9.0" textLength="21.16" lengthAdjust="spacingAndGlyphs">ng/mL</text><line x1="150.9" y1="338.1" x2="150.9" y2="367.3" stroke="#222" stroke-width="1"/><line x1="145.9" y1="338.1" x2="155.9" y2="338.1" stroke="#222" stroke-width="1"/><line x1="145.9" y1="367.3" x2="155.9" y2="367.3" stroke="#222" stroke-width="1"/><line x1="140.9" y1="352.8" x2="160.9" y2="352.8" stroke="#222" stroke-width="1.1"/><circle cx="150.9" cy="331.5" r="2.15" fill="#c8102e"/><circle cx="143.3" cy="343" r="2.15" fill="#c8102e"/><circle cx="150.9" cy="341.8" r="2.15" fill="#c8102e"/><circle cx="158.9" cy="342.1" r="2.15" fill="#c8102e"/><circle cx="150.9" cy="360.2" r="2.15" fill="#c8102e"/><circle cx="150.9" cy="365.7" r="2.15" fill="#c8102e"/><circle cx="143.3" cy="369.2" r="2.15" fill="#c8102e"/><circle cx="158.9" cy="368.7" r="2.15" fill="#c8102e"/><line x1="181.0" y1="366" x2="181.0" y2="382.3" stroke="#222" stroke-width="1"/><line x1="176.0" y1="366" x2="186.0" y2="366" stroke="#222" stroke-width="1"/><line x1="176.0" y1="382.3" x2="186.0" y2="382.3" stroke="#222" stroke-width="1"/><line x1="171.0" y1="374.4" x2="191.0" y2="374.4" stroke="#222" stroke-width="1.1"/><circle cx="176.9" cy="362.5" r="2.15" fill="#0b4f8f"/><circle cx="184.9" cy="362.5" r="2.15" fill="#0b4f8f"/><circle cx="173" cy="375.3" r="2.15" fill="#0b4f8f"/><circle cx="181" cy="378.8" r="2.15" fill="#0b4f8f"/><circle cx="189" cy="376.1" r="2.15" fill="#0b4f8f"/><circle cx="189" cy="380.6" r="2.15" fill="#0b4f8f"/><circle cx="173" cy="383.2" r="2.15" fill="#0b4f8f"/><line x1="210.8" y1="385.8" x2="210.8" y2="390.6" stroke="#222" stroke-width="1"/><line x1="205.8" y1="385.8" x2="215.8" y2="385.8" stroke="#222" stroke-width="1"/><line x1="205.8" y1="390.6" x2="215.8" y2="390.6" stroke="#222" stroke-width="1"/><line x1="200.8" y1="388.2" x2="220.8" y2="388.2" stroke="#222" stroke-width="1.1"/><circle cx="210.6" cy="383.7" r="2.15" fill="#22b43a"/><circle cx="203.2" cy="385.5" r="2.15" fill="#22b43a"/><circle cx="206.7" cy="387.1" r="2.15" fill="#22b43a"/><circle cx="214.8" cy="387.6" r="2.15" fill="#22b43a"/><circle cx="218.6" cy="386.8" r="2.15" fill="#22b43a"/><circle cx="203.2" cy="391" r="2.15" fill="#22b43a"/><circle cx="210.6" cy="390.2" r="2.15" fill="#22b43a"/><circle cx="218.6" cy="392.2" r="2.15" fill="#22b43a"/><g fill="#111"><polygon points="177.00,347.45 177.65,349.01 179.33,349.14 178.05,350.24 178.44,351.88 177.00,351.00 175.56,351.88 175.95,350.24 174.67,349.14 176.35,349.01"/><polygon points="182.10,347.45 182.75,349.01 184.43,349.14 183.15,350.24 183.54,351.88 182.10,351.00 180.66,351.88 181.05,350.24 179.77,349.14 181.45,349.01"/><polygon points="187.20,347.45 187.85,349.01 189.53,349.14 188.25,350.24 188.64,351.88 187.20,351.00 185.76,351.88 186.15,350.24 184.87,349.14 186.55,349.01"/><polygon points="206.90,368.35 207.55,369.91 209.23,370.04 207.95,371.14 208.34,372.78 206.90,371.90 205.46,372.78 205.85,371.14 204.57,370.04 206.25,369.91"/><polygon points="212.00,368.35 212.65,369.91 214.33,370.04 213.05,371.14 213.44,372.78 212.00,371.90 210.56,372.78 210.95,371.14 209.67,370.04 211.35,369.91"/><polygon points="217.10,368.35 217.75,369.91 219.43,370.04 218.15,371.14 218.54,372.78 217.10,371.90 215.66,372.78 216.05,371.14 214.77,370.04 216.45,369.91"/></g><line x1="324.5" y1="318.2" x2="324.5" y2="422.3" stroke="#1a1a1a" stroke-width="1.1"/><line x1="321.2" y1="421.8" x2="324.5" y2="421.8" stroke="#1a1a1a" stroke-width="1"/><line x1="321.2" y1="409.35" x2="324.5" y2="409.35" stroke="#1a1a1a" stroke-width="1"/><line x1="321.2" y1="396.9" x2="324.5" y2="396.9" stroke="#1a1a1a" stroke-width="1"/><line x1="321.2" y1="384.45" x2="324.5" y2="384.45" stroke="#1a1a1a" stroke-width="1"/><line x1="321.2" y1="372.0" x2="324.5" y2="372.0" stroke="#1a1a1a" stroke-width="1"/><line x1="321.2" y1="359.55" x2="324.5" y2="359.55" stroke="#1a1a1a" stroke-width="1"/><line x1="321.2" y1="347.1" x2="324.5" y2="347.1" stroke="#1a1a1a" stroke-width="1"/><line x1="321.2" y1="334.65" x2="324.5" y2="334.65" stroke="#1a1a1a" stroke-width="1"/><line x1="321.2" y1="322.2" x2="324.5" y2="322.2" stroke="#1a1a1a" stroke-width="1"/><text x="313.91" y="424.90" font-size="9.0" font-weight="normal" textLength="4.50" lengthAdjust="spacingAndGlyphs">0</text><text x="313.99" y="400.00" font-size="9.0" font-weight="normal" textLength="4.50" lengthAdjust="spacingAndGlyphs">1</text><text x="314.00" y="375.10" font-size="9.0" font-weight="normal" textLength="4.50" lengthAdjust="spacingAndGlyphs">2</text><text x="313.95" y="350.20" font-size="9.0" font-weight="normal" textLength="4.50" lengthAdjust="spacingAndGlyphs">3</text><text x="313.83" y="325.30" font-size="9.0" font-weight="normal" textLength="4.50" lengthAdjust="spacingAndGlyphs">4</text><line x1="324.0" y1="421.8" x2="424.5" y2="421.8" stroke="#1a1a1a" stroke-width="1.1"/><line x1="344.35" y1="421.8" x2="344.35" y2="425.0" stroke="#1a1a1a" stroke-width="0.9"/><line x1="374.35" y1="421.8" x2="374.35" y2="425.0" stroke="#1a1a1a" stroke-width="0.9"/><line x1="404.35" y1="421.8" x2="404.35" y2="425.0" stroke="#1a1a1a" stroke-width="0.9"/><text transform="translate(307.90,384.30) rotate(-90)" x="-0.50" y="0" font-size="9.0" textLength="24.25" lengthAdjust="spacingAndGlyphs">mU/mL</text><line x1="344.3" y1="328.5" x2="344.3" y2="375.4" stroke="#222" stroke-width="1"/><line x1="339.3" y1="328.5" x2="349.3" y2="328.5" stroke="#222" stroke-width="1"/><line x1="339.3" y1="375.4" x2="349.3" y2="375.4" stroke="#222" stroke-width="1"/><line x1="334.3" y1="351.9" x2="354.3" y2="351.9" stroke="#222" stroke-width="1.1"/><circle cx="344.2" cy="330.3" r="2.15" fill="#c8102e"/><circle cx="339.7" cy="335.4" r="2.15" fill="#c8102e"/><circle cx="348.6" cy="336.3" r="2.15" fill="#c8102e"/><circle cx="344.2" cy="351.6" r="2.15" fill="#c8102e"/><circle cx="344.2" cy="366" r="2.15" fill="#c8102e"/><circle cx="344.2" cy="391.8" r="2.15" fill="#c8102e"/><line x1="374.3" y1="378.5" x2="374.3" y2="392.6" stroke="#222" stroke-width="1"/><line x1="369.3" y1="378.5" x2="379.3" y2="378.5" stroke="#222" stroke-width="1"/><line x1="369.3" y1="392.6" x2="379.3" y2="392.6" stroke="#222" stroke-width="1"/><line x1="364.3" y1="385.7" x2="384.3" y2="385.7" stroke="#222" stroke-width="1.1"/><circle cx="366.6" cy="375.4" r="2.15" fill="#0b4f8f"/><circle cx="374.3" cy="377.1" r="2.15" fill="#0b4f8f"/><circle cx="366.6" cy="384" r="2.15" fill="#0b4f8f"/><circle cx="374.3" cy="386" r="2.15" fill="#0b4f8f"/><circle cx="374.3" cy="390.9" r="2.15" fill="#0b4f8f"/><circle cx="366.6" cy="392.9" r="2.15" fill="#0b4f8f"/><circle cx="382.4" cy="392.9" r="2.15" fill="#0b4f8f"/><line x1="404.3" y1="390.6" x2="404.3" y2="400.4" stroke="#222" stroke-width="1"/><line x1="399.3" y1="390.6" x2="409.3" y2="390.6" stroke="#222" stroke-width="1"/><line x1="399.3" y1="400.4" x2="409.3" y2="400.4" stroke="#222" stroke-width="1"/><line x1="394.3" y1="395.6" x2="414.3" y2="395.6" stroke="#222" stroke-width="1.1"/><circle cx="412.3" cy="388.6" r="2.15" fill="#22b43a"/><circle cx="396.5" cy="393.4" r="2.15" fill="#22b43a"/><circle cx="400.4" cy="392.2" r="2.15" fill="#22b43a"/><circle cx="408.1" cy="392.6" r="2.15" fill="#22b43a"/><circle cx="404.2" cy="395.2" r="2.15" fill="#22b43a"/><circle cx="412.3" cy="396" r="2.15" fill="#22b43a"/><circle cx="404.2" cy="399.9" r="2.15" fill="#22b43a"/><circle cx="404.2" cy="405" r="2.15" fill="#22b43a"/><g fill="#111"><polygon points="370.50,359.85 371.15,361.41 372.83,361.54 371.55,362.64 371.94,364.28 370.50,363.40 369.06,364.28 369.45,362.64 368.17,361.54 369.85,361.41"/><polygon points="375.60,359.85 376.25,361.41 377.93,361.54 376.65,362.64 377.04,364.28 375.60,363.40 374.16,364.28 374.55,362.64 373.27,361.54 374.95,361.41"/><polygon points="380.70,359.85 381.35,361.41 383.03,361.54 381.75,362.64 382.14,364.28 380.70,363.40 379.26,364.28 379.65,362.64 378.37,361.54 380.05,361.41"/><polygon points="400.40,372.65 401.05,374.21 402.73,374.34 401.45,375.44 401.84,377.08 400.40,376.20 398.96,377.08 399.35,375.44 398.07,374.34 399.75,374.21"/><polygon points="405.50,372.65 406.15,374.21 407.83,374.34 406.55,375.44 406.94,377.08 405.50,376.20 404.06,377.08 404.45,375.44 403.17,374.34 404.85,374.21"/><polygon points="410.60,372.65 411.25,374.21 412.93,374.34 411.65,375.44 412.04,377.08 410.60,376.20 409.16,377.08 409.55,375.44 408.27,374.34 409.95,374.21"/></g><circle cx="160.5" cy="441.2" r="2" fill="#c8102e"/><text x="165.71" y="443.60" font-size="7.3" font-weight="normal" textLength="43.31" lengthAdjust="spacingAndGlyphs">HbSS vehicle</text><circle cx="223.4" cy="441.2" r="2" fill="#0b4f8f"/><text x="227.98" y="443.60" font-size="7.3" font-weight="normal" textLength="104.17" lengthAdjust="spacingAndGlyphs">HbSS vamifeport 60 mg/kg BID</text><circle cx="347.4" cy="441.2" r="2" fill="#22b43a"/><text x="351.48" y="443.60" font-size="7.3" font-weight="normal" textLength="45.66" lengthAdjust="spacingAndGlyphs">HbAA vehicle</text>
<g fill="#000"><rect x="0" y="0" width="520" height="1"/><rect x="0" y="0" width="1" height="452"/><rect x="518.9" y="0" width="1.1" height="452"/><rect x="0" y="450.9" width="520" height="1.1"/></g>
</svg>
</body></html>
